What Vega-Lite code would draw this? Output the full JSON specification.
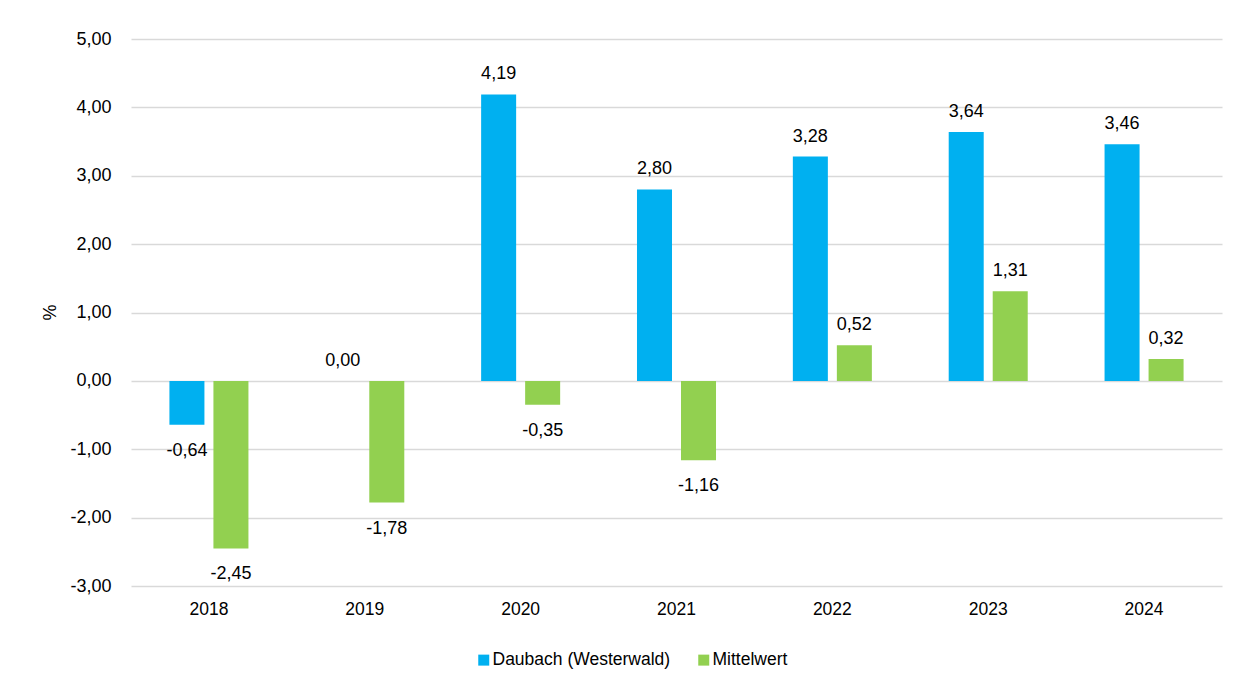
{
  "$schema": "https://vega.github.io/schema/vega-lite/v6.json",
  "width": 1091,
  "height": 547,
  "autosize": "none",
  "padding": {"left": 131, "top": 39, "right": 27, "bottom": 107},
  "background": "white",
  "config": {
    "font": "Liberation Sans",
    "view": {"stroke": null},
    "locale": {"number": {"decimal": ",", "thousands": ".", "grouping": [3], "currency": ["", " €"], "minus": "-"}}
  },
  "data": {
    "values": [
      {"Jahr": "2018", "Serie": "Daubach (Westerwald)", "Wert": -0.64},
      {"Jahr": "2018", "Serie": "Mittelwert", "Wert": -2.45},
      {"Jahr": "2019", "Serie": "Daubach (Westerwald)", "Wert": 0.00},
      {"Jahr": "2019", "Serie": "Mittelwert", "Wert": -1.78},
      {"Jahr": "2020", "Serie": "Daubach (Westerwald)", "Wert": 4.19},
      {"Jahr": "2020", "Serie": "Mittelwert", "Wert": -0.35},
      {"Jahr": "2021", "Serie": "Daubach (Westerwald)", "Wert": 2.80},
      {"Jahr": "2021", "Serie": "Mittelwert", "Wert": -1.16},
      {"Jahr": "2022", "Serie": "Daubach (Westerwald)", "Wert": 3.28},
      {"Jahr": "2022", "Serie": "Mittelwert", "Wert": 0.52},
      {"Jahr": "2023", "Serie": "Daubach (Westerwald)", "Wert": 3.64},
      {"Jahr": "2023", "Serie": "Mittelwert", "Wert": 1.31},
      {"Jahr": "2024", "Serie": "Daubach (Westerwald)", "Wert": 3.46},
      {"Jahr": "2024", "Serie": "Mittelwert", "Wert": 0.32}
    ]
  },
  "encoding": {
    "x": {
      "field": "Jahr", "type": "nominal",
      "scale": {"paddingInner": 0.493, "paddingOuter": 0.2465},
      "axis": {
        "title": null, "labelAngle": 0, "domain": false, "ticks": false, "tickSize": 0,
        "labelPadding": 14, "labelFontSize": 17.5, "labelColor": "#000000", "grid": false
      }
    },
    "xOffset": {
      "field": "Serie", "type": "nominal",
      "scale": {"paddingInner": 0.2045, "paddingOuter": 0},
      "sort": ["Daubach (Westerwald)", "Mittelwert"]
    },
    "y": {
      "field": "Wert", "type": "quantitative",
      "scale": {"domain": [-3, 5], "nice": false, "zero": false},
      "axis": {
        "title": "%", "values": [-3, -2, -1, 0, 1, 2, 3, 4, 5], "format": ".2f",
        "domain": false, "ticks": false, "labelPadding": 20, "labelFontSize": 18, "labelColor": "#000000",
        "grid": true, "gridColor": "#d9d9d9", "gridWidth": 1.5,
        "titleFontSize": 18, "titleFontWeight": "normal", "titleColor": "#000000",
        "titleX": -81, "titleY": 273, "titleAngle": -90, "titleAlign": "center", "titleBaseline": "middle"
      }
    }
  },
  "layer": [
    {
      "mark": {"type": "bar"},
      "encoding": {
        "color": {
          "field": "Serie", "type": "nominal",
          "scale": {"domain": ["Daubach (Westerwald)", "Mittelwert"], "range": ["#00B0F0", "#92D050"]},
          "legend": {
            "title": null, "orient": "none", "direction": "horizontal",
            "legendX": 344, "legendY": 612,
            "symbolType": "square", "symbolSize": 121, "symbolStrokeWidth": 0,
            "labelFontSize": 17.5, "labelColor": "#000000", "labelOffset": 0, "labelLimit": 0,
            "columnPadding": 24, "padding": 0
          }
        }
      }
    },
    {
      "transform": [{"filter": "datum.Wert >= 0"}],
      "mark": {"type": "text", "baseline": "alphabetic", "dy": -15, "fontSize": 18, "color": "#000000"},
      "encoding": {"text": {"field": "Wert", "type": "quantitative", "format": ".2f"}}
    },
    {
      "transform": [{"filter": "datum.Wert < 0"}],
      "mark": {"type": "text", "baseline": "top", "dy": 17, "fontSize": 18, "color": "#000000"},
      "encoding": {"text": {"field": "Wert", "type": "quantitative", "format": ".2f"}}
    }
  ]
}
